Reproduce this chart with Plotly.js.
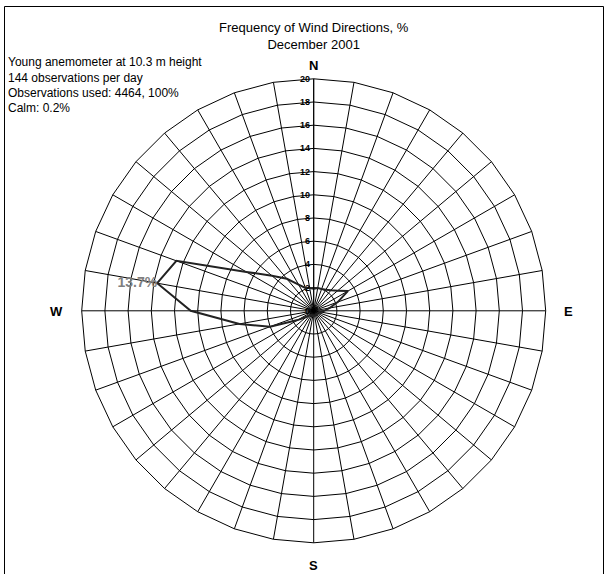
<!DOCTYPE html>
<html>
<head>
<meta charset="utf-8">
<script src="https://cdn.plot.ly/plotly-3.0.1.min.js"></script>
<style>
  html, body { margin: 0; padding: 0; background: #fff; }
  #chart { width: 608px; height: 574px; }
</style>
</head>
<body>
<div id="chart"></div>
<script>
// Wind directions (degrees, clockwise from North)
const directions = ['0','10','20','30','40','50','60','70','80','90','100','110',
                    '120','130','140','150','160','170','180','190','200','210','220','230',
                    '240','250','260','270','280','290','300','310','320','330','340','350'];
// Frequency of each direction, %
const frequency = [1.9, 2.0, 2.0, 2.1, 2.3, 2.7, 3.4, 2.2, 1.4, 0.9, 0.6, 0.5,
                   0.4, 0.4, 0.4, 0.4, 0.4, 0.4, 0.4, 0.4, 0.4, 0.4, 0.5, 0.8,
                   1.6, 4.0, 6.5, 10.6, 13.7, 12.6, 6.7, 4.7, 3.6, 2.6, 2.1, 2.0];
// Radial tick values
const radialTicks = [0, 2, 4, 6, 8, 10, 12, 14, 16, 18, 20];
// Compass labels
const compassLabels = ['N', 'E', 'S', 'W'];
// Texts
const titleLines = ['Frequency of Wind Directions, %', 'December 2001'];
const infoLines = ['Young anemometer at 10.3 m height', '144 observations per day',
                   'Observations used: 4464, 100%', 'Calm: 0.2%'];

const W = 608, H = 574;
const px = v => v / W;
const py = v => 1 - v / H;

// closed loop
const rClosed = frequency.concat([frequency[0]]);
const tClosed = directions.concat([directions[0]]);

let maxIdx = 0;
frequency.forEach((v, i) => { if (v > frequency[maxIdx]) maxIdx = i; });

const traces = [
  {
    type: 'scatterpolar', mode: 'lines',
    r: rClosed, theta: tClosed,
    line: { color: '#222222', width: 2 },
    hoverinfo: 'skip', showlegend: false
  },
  {
    type: 'scatterpolar', mode: 'text',
    r: [frequency[maxIdx]], theta: [directions[maxIdx]],
    text: [frequency[maxIdx].toFixed(1) + '%'],
    textposition: 'middle left',
    textfont: { family: 'Liberation Sans, Arial, sans-serif', size: 14, color: '#7f7f7f', weight: 'bold' },
    hoverinfo: 'skip', showlegend: false
  }
];

const cx = 313.7, cy = 310.8, R = 232;

const annotations = [];
infoLines.forEach((t, i) => {
  annotations.push({
    text: t, xref: 'paper', yref: 'paper',
    x: px(6), y: py([61.7, 77.7, 92.7, 108.3][i]),
    xanchor: 'left', yanchor: 'middle', showarrow: false,
    font: { family: 'Liberation Sans, Arial, sans-serif', size: 12, color: '#000' }
  });
});
const compassPos = [[cx, 66], [568.3, 311.5], [cx, 565], [56.5, 311.5]];
compassLabels.forEach((t, i) => {
  annotations.push({
    text: '<b>' + t + '</b>', xref: 'paper', yref: 'paper',
    x: px(compassPos[i][0]), y: py(compassPos[i][1]),
    xanchor: 'center', yanchor: 'middle', showarrow: false,
    font: { family: 'Liberation Sans, Arial, sans-serif', size: 13, color: '#000' }
  });
});

const layout = {
  width: W, height: H,
  margin: { l: 0, r: 0, t: 0, b: 0 },
  paper_bgcolor: '#fff',
  showlegend: false,
  title: {
    text: titleLines.join('<br>'),
    x: px(cx), xanchor: 'center', xref: 'paper',
    y: py(32), yanchor: 'top', yref: 'paper',
    font: { family: 'Liberation Sans, Arial, sans-serif', size: 13, color: '#000' }
  },
  polar: {
    domain: { x: [px(cx - R), px(cx + R)], y: [py(cy + R), py(cy - R)] },
    bgcolor: '#fff',
    gridshape: 'linear',
    radialaxis: {
      range: [0, 20], tickvals: radialTicks, ticktext: radialTicks.map(String),
      angle: 90, side: 'counterclockwise', tickangle: 90,
      showline: true, linecolor: '#000', linewidth: 1,
      gridcolor: '#000', gridwidth: 1, ticks: '',
      tickfont: { family: 'Liberation Sans, Arial, sans-serif', size: 9, color: '#000', weight: 'bold' }
    },
    angularaxis: {
      type: 'category', categoryorder: 'array', categoryarray: directions,
      direction: 'clockwise', rotation: 90,
      showline: true, linecolor: '#000', linewidth: 1,
      gridcolor: '#000', gridwidth: 1,
      ticks: '', showticklabels: false
    }
  },
  annotations: annotations,
  shapes: [{
    type: 'rect', xref: 'paper', yref: 'paper',
    x0: px(4.5), x1: px(603.5), y0: -0.05, y1: py(6.5),
    line: { color: '#000', width: 1 }, fillcolor: 'rgba(0,0,0,0)'
  }]
};

Plotly.newPlot('chart', traces, layout, { staticPlot: true, displayModeBar: false });
</script>
</body>
</html>
